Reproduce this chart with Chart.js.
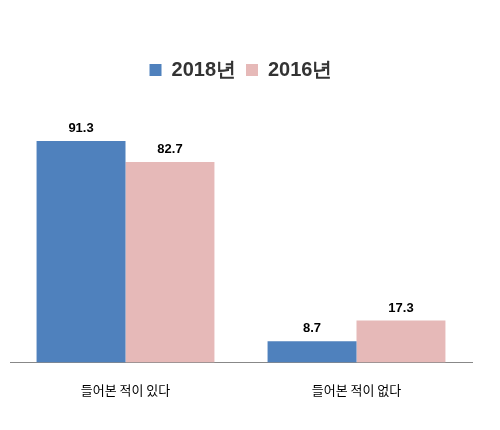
<!DOCTYPE html>
<html>
<head>
<meta charset="utf-8">
<script src="https://cdn.jsdelivr.net/npm/chart.js"></script>
<style>
  body { margin: 0; background: #fff; }
  #wrap { width: 500px; height: 430px; }
</style>
</head>
<body>
<div id="wrap"><canvas id="chart"></canvas></div>
<script>
const categories = ['들어본 적이 있다', '들어본 적이 없다'];
const series2018 = [91.3, 8.7];
const series2016 = [82.7, 17.3];

// draw value labels above each bar
const valueLabels = {
  id: 'valueLabels',
  afterDatasetsDraw(chart) {
    const ctx = chart.ctx;
    ctx.save();
    ctx.font = 'bold 13px "Liberation Sans", Arial';
    ctx.fillStyle = '#000';
    ctx.textAlign = 'center';
    ctx.textBaseline = 'bottom';
    chart.data.datasets.forEach((ds, i) => {
      chart.getDatasetMeta(i).data.forEach((bar, j) => {
        ctx.fillText(ds.data[j].toFixed(1), bar.x, bar.y - 6);
      });
    });
    ctx.restore();
  }
};

// extra space below the legend
const legendGap = {
  id: 'legendGap',
  afterInit(chart) {
    const fit = chart.legend.fit;
    chart.legend.fit = function () {
      fit.bind(chart.legend)();
      this.height += 30;
    };
  }
};

new Chart(document.getElementById('chart'), {
  type: 'bar',
  data: {
    labels: categories,
    datasets: [
      { label: '2018년', data: series2018, backgroundColor: '#4f81bd' },
      { label: '2016년', data: series2016, backgroundColor: '#e6b9b8' }
    ]
  },
  options: {
    responsive: true,
    maintainAspectRatio: false,
    animation: false,
    categoryPercentage: 0.77,
    barPercentage: 1,
    layout: { padding: { left: 10, right: 28, top: 50, bottom: 12 } },
    plugins: {
      legend: {
        labels: {
          font: { family: '"Liberation Sans", Arial', size: 20, weight: 'bold' },
          color: '#333',
          boxWidth: 12,
          boxHeight: 12,
          padding: 10
        }
      },
      tooltip: { enabled: false }
    },
    scales: {
      y: {
        display: false,
        min: 0,
        max: 100
      },
      x: {
        grid: { display: false, drawTicks: false },
        border: { display: true, color: '#888' },
        ticks: {
          padding: 20,
          color: '#000',
          font: { family: '"Noto Sans CJK KR"', size: 13 }
        }
      }
    }
  },
  plugins: [valueLabels, legendGap]
});
</script>
</body>
</html>
